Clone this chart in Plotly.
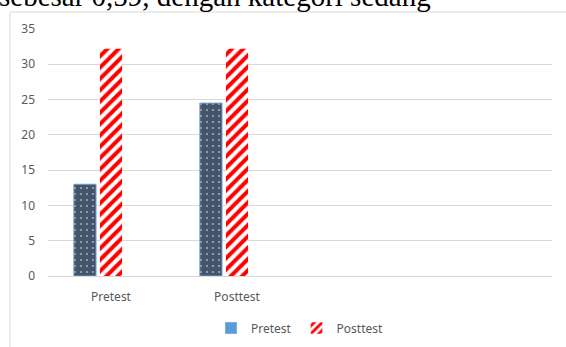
import plotly.graph_objects as go

categories = ["Pretest", "Posttest"]
n_slots = 4
pretest = [13, 24.5]
posttest = [32.2, 32.2]
empty_series = [None, None]
y_ticks = [0, 5, 10, 15, 20, 25, 30, 35]
caption = "sebesar 0,59, dengan kategori sedang"

W, H = 566, 347
L, R, T, B = 48, 14, 29, 71
pw, ph = W - L - R, H - T - B

def px_x(p):
    return (p - L) / pw

def px_y(p):
    return (H - B - p) / ph

xs = list(range(len(categories)))

stripes = dict(shape="/", fgcolor="#FF0000", bgcolor="#FFFFFF", fgopacity=1,
               size=8, solidity=0.5, fillmode="replace")

fig = go.Figure()
fig.add_trace(go.Bar(
    x=xs, y=pretest, name="Pretest", showlegend=False,
    marker=dict(color="#44546A", line=dict(color="#6F9FD2", width=1),
                pattern=dict(shape=".", fgcolor="white", bgcolor="#44546A",
                             size=6, solidity=0.1, fillmode="overlay")),
))
fig.add_trace(go.Bar(
    x=xs, y=posttest, name="Posttest", showlegend=False,
    marker=dict(color="#FFFFFF", line=dict(width=0), pattern=stripes),
))
fig.add_trace(go.Bar(x=xs, y=empty_series, showlegend=False, hoverinfo="skip"))

# legend entries
fig.add_trace(go.Bar(x=[0], y=[None], name="Pretest", xaxis="x2", yaxis="y2",
                     marker=dict(color="#5B9BD5")))
fig.add_trace(go.Bar(x=[0], y=[None], name="Posttest", xaxis="x2", yaxis="y2",
                     marker=dict(color="#FFFFFF", pattern=dict(stripes, size=7))))

tick_font = dict(family="Noto Sans", size=12, color="#595959")

fig.update_layout(
    width=W, height=H,
    margin=dict(l=L, r=R, t=T, b=B, autoexpand=False),
    paper_bgcolor="white", plot_bgcolor="white",
    barmode="group", bargap=0.38, bargroupgap=0.15,
    xaxis=dict(range=[-0.5, n_slots - 0.5], tickvals=xs, ticktext=categories,
               showgrid=False, zeroline=False, showline=True,
               linecolor="#D9D9D9", linewidth=1, ticks="", tickfont=tick_font,
               ticklabelstandoff=10, fixedrange=True, automargin=False),
    yaxis=dict(range=[0, 35], tickvals=y_ticks, showgrid=True, gridcolor="#D9D9D9",
               gridwidth=1, zeroline=False, showline=False, ticks="",
               tickfont=tick_font, ticklabelstandoff=12, fixedrange=True, automargin=False),
    xaxis2=dict(overlaying="x", visible=False, range=[5, 6]),
    yaxis2=dict(overlaying="y", visible=False, range=[0, 1]),
    legend=dict(orientation="h", x=0.5, xanchor="center", y=px_y(328), yanchor="middle",
                font=dict(family="Noto Sans", size=12, color="#595959"),
                itemwidth=30, tracegroupgap=0, bgcolor="rgba(0,0,0,0)"),
    showlegend=True,
)

fig.add_shape(type="rect", xref="paper", yref="paper",
              x0=px_x(10), x1=px_x(580), y0=px_y(360), y1=px_y(12),
              line=dict(color="#D9D9D9", width=1), fillcolor="rgba(0,0,0,0)", layer="below")

fig.add_annotation(text=caption, xref="paper", yref="paper",
                   x=px_x(-3), xanchor="left", y=px_y(14), yanchor="bottom",
                   showarrow=False, font=dict(family="Liberation Serif", size=29, color="black"))

fig.write_html("out.html")
